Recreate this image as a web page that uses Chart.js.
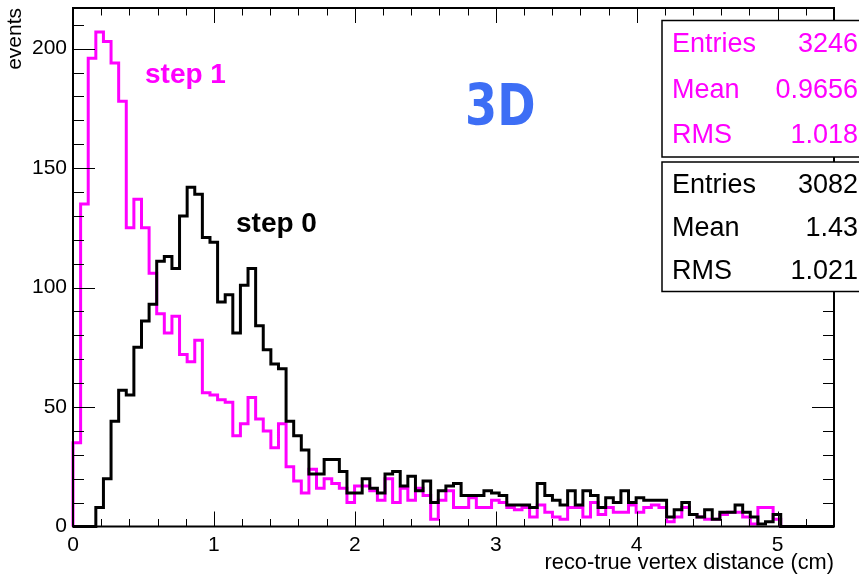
<!DOCTYPE html>
<html>
<head>
<meta charset="utf-8">
<script src="https://cdn.jsdelivr.net/npm/chart.js@4.4.1/dist/chart.umd.min.js"></script>
<style>
  html, body { margin: 0; padding: 0; background: #fff; }
  canvas { display: block; }
</style>
</head>
<body>
<canvas id="grafico" width="859" height="574"></canvas>
<script>
// histogram binning: 100 bins from 0 to 5.4 cm
const nBins = 100;
const xMin = 0;
const xMax = 5.4;

// step 1 (magenta), events per bin
const step1 = [
  35, 135, 196, 207, 203, 194, 178, 125, 137, 125,
  106, 89, 81, 88, 72, 69, 78, 56, 55, 53,
  52, 38, 43, 54, 45, 40, 33, 43, 25, 19,
  14, 24, 16, 20, 18, 16, 10, 17, 17, 15,
  11, 20, 10, 16, 11, 16, 13, 3, 11, 15,
  8, 8, 12, 8, 8, 11, 10, 8, 7, 8,
  4, 9, 6, 4, 3, 8, 8, 4, 10, 5,
  8, 6, 6, 9, 6, 8, 9, 8, 2, 4,
  8, 5, 4, 3, 3, 5, 6, 6, 4, 1,
  8, 8, 3, 0, 0, 0, 0, 0, 0, 0
];

// step 0 (black), events per bin
const step0 = [
  0, 0, 0, 8, 20, 44, 57, 55, 75, 86,
  93, 111, 113, 108, 130, 142, 139, 121, 119, 94,
  97, 81, 101, 108, 84, 74, 68, 66, 44, 38,
  32, 22, 22, 28, 28, 23, 14, 14, 20, 16,
  14, 22, 23, 17, 21, 15, 19, 10, 15, 17,
  18, 13, 13, 13, 15, 14, 13, 9, 9, 9,
  8, 18, 13, 11, 9, 15, 9, 15, 13, 8,
  12, 10, 15, 10, 12, 11, 11, 11, 4, 7,
  10, 5, 4, 7, 3, 6, 6, 9, 6, 4,
  1, 2, 5, 0, 0, 0, 0, 0, 0, 0
];

const yTicks = [0, 50, 100, 150, 200];
const xTicks = [0, 1, 2, 3, 4, 5];

const stats1 = [["Entries", "3246"], ["Mean", "0.9656"], ["RMS", "1.018"]];
const stats0 = [["Entries", "3082"], ["Mean", "1.43"], ["RMS", "1.021"]];

const FONT = "'Liberation Sans', Helvetica, Arial, sans-serif";
Chart.defaults.font.family = FONT;

// bin contents -> step points (left edge of every bin + closing edge)
function histPoints(vals) {
  const w = (xMax - xMin) / nBins;
  const pts = [{ x: xMin, y: 0 }];
  vals.forEach((v, i) => pts.push({ x: xMin + i * w, y: v }));
  pts.push({ x: xMax, y: vals[vals.length - 1] });
  return pts;
}

// ROOT-like frame: ticks inside on all four sides, stat boxes, labels
const frameTicks = {
  id: "frameTicks",
  afterDatasetsDraw(chart) {
    const { ctx, chartArea: a, scales: { x, y } } = chart;
    ctx.save();
    ctx.strokeStyle = "#000";
    ctx.lineWidth = 1;
    ctx.beginPath();
    for (let i = 0; i <= 27; i++) {
      const px = Math.round(x.getPixelForValue(i * 0.2)) + 0.5;
      const len = i % 5 === 0 ? 15 : 7.5;
      ctx.moveTo(px, a.bottom); ctx.lineTo(px, a.bottom - len);
      ctx.moveTo(px, a.top); ctx.lineTo(px, a.top + len);
    }
    for (let v = 0; v <= 210; v += 10) {
      const py = Math.round(y.getPixelForValue(v)) + 0.5;
      const len = v % 50 === 0 ? 22 : 11;
      ctx.moveTo(a.left, py); ctx.lineTo(a.left + len, py);
      ctx.moveTo(a.right, py); ctx.lineTo(a.right - len, py);
    }
    ctx.stroke();
    ctx.lineWidth = 2;
    ctx.strokeRect(a.left, a.top, a.right - a.left, a.bottom - a.top);
    ctx.restore();
  },
  afterDraw(chart) {
    const { ctx } = chart;
    ctx.save();
    ctx.textBaseline = "alphabetic";
    ctx.textAlign = "left";
    ctx.font = "bold 28px " + FONT;
    ctx.fillStyle = "#ff00ff";
    ctx.fillText("step 1", 145, 83);
    ctx.fillStyle = "#000";
    ctx.fillText("step 0", 236, 232);

    // "3D" tag, stretched a bit vertically like the rounded original
    ctx.save();
    ctx.translate(465, 125);
    ctx.scale(1.05, 1.3);
    ctx.font = "bold 44px 'DejaVu Sans', sans-serif";
    ctx.fillStyle = "rgb(61,110,245)";
    ctx.fillText("3D", 0, 0);
    ctx.restore();

    const drawBox = (top, bottom, rows, color) => {
      ctx.fillStyle = "#fff";
      ctx.fillRect(662, top, 210, bottom - top);
      ctx.strokeStyle = "#000";
      ctx.lineWidth = 1.5;
      ctx.strokeRect(662, top, 210, bottom - top);
      ctx.fillStyle = color;
      ctx.font = "27px " + FONT;
      ctx.textBaseline = "middle";
      const h = (bottom - top) / rows.length;
      rows.forEach((r, i) => {
        const cy = top + h * (i + 0.5) + 1.5;
        ctx.textAlign = "left";
        ctx.fillText(r[0], 672, cy);
        ctx.textAlign = "right";
        ctx.fillText(r[1], 858, cy);
      });
    };
    drawBox(20.5, 157, stats1, "#ff00ff");
    drawBox(162, 291.5, stats0, "#000");
    ctx.restore();
  }
};

new Chart(document.getElementById("grafico"), {
  type: "line",
  data: {
    datasets: [
      {
        label: "step 0",
        data: histPoints(step0),
        borderColor: "#000",
        borderWidth: 3,
        stepped: "before",
        pointRadius: 0,
        fill: false,
        clip: 3
      },
      {
        label: "step 1",
        data: histPoints(step1),
        borderColor: "#ff00ff",
        borderWidth: 3,
        stepped: "before",
        pointRadius: 0,
        fill: false,
        clip: 3
      }
    ]
  },
  options: {
    responsive: false,
    animation: false,
    devicePixelRatio: 1,
    layout: { padding: { top: 8, right: 25, left: 0, bottom: 0 } },
    plugins: { legend: { display: false }, tooltip: { enabled: false } },
    scales: {
      x: {
        type: "linear",
        min: xMin,
        max: xMax,
        afterFit(s) { s.height = 47.5; s.paddingLeft = 0; s.paddingRight = 0; },
        afterBuildTicks(s) { s.ticks = xTicks.map(v => ({ value: v })); },
        ticks: { padding: 6, maxRotation: 0, color: "#000", font: { size: 21 } },
        grid: { drawOnChartArea: false, drawTicks: false },
        border: { display: false },
        title: {
          display: true, text: "reco-true vertex distance (cm)", align: "end",
          color: "#000", font: { size: 21.8, lineHeight: 1 }, padding: { top: 0, bottom: 0 }
        }
      },
      y: {
        min: 0,
        max: 217,
        afterFit(s) { s.width = 73; s.paddingTop = 0; s.paddingBottom = 0; },
        afterBuildTicks(s) { s.ticks = yTicks.map(v => ({ value: v })); },
        ticks: { padding: 6, color: "#000", font: { size: 21 } },
        grid: { drawOnChartArea: false, drawTicks: false },
        border: { display: false },
        title: {
          display: true, text: "events", align: "end",
          color: "#000", font: { size: 21, lineHeight: 1 }, padding: { top: 5, bottom: 0 }
        }
      }
    }
  },
  plugins: [frameTicks]
});
</script>
</body>
</html>
